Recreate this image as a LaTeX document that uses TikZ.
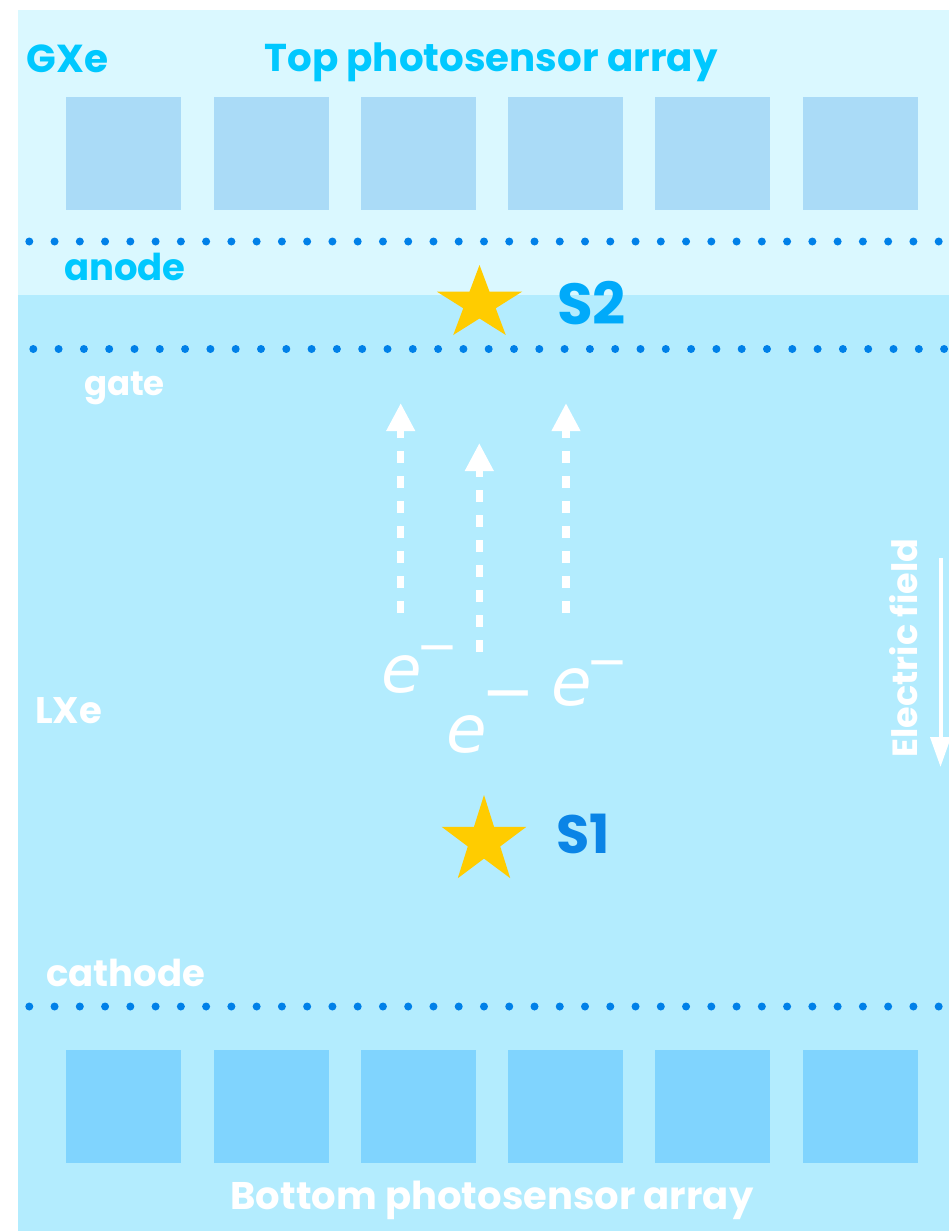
\documentclass[tikz,border=0pt]{standalone}
\usepackage{fontspec}
\setmainfont{Poppins}
\newfontfamily\efont{DejaVu Sans}
\usetikzlibrary{arrows.meta}
\definecolor{gxebg}{RGB}{218,248,255}
\definecolor{lxebg}{RGB}{179,236,254}
\definecolor{topsq}{RGB}{170,219,247}
\definecolor{botsq}{RGB}{128,212,254}
\definecolor{dotcol}{RGB}{0,128,232}
\definecolor{cyantext}{RGB}{0,200,255}
\definecolor{stwo}{RGB}{0,170,250}
\definecolor{sone}{RGB}{10,132,230}
\definecolor{starcol}{RGB}{255,204,0}
\newcommand{\fsz}[1]{\fontsize{#1}{#1}\selectfont}
\tikzset{
  sensorbox/.style={minimum width=115pt,minimum height=113pt,inner sep=0pt,outer sep=0pt},
  lbl/.style={inner sep=0pt,outer sep=0pt,font=\bfseries},
  elbl/.style={inner sep=0pt,outer sep=0pt,text=white,anchor=base west,font=\efont\itshape\fsz{66}},
  driftarrow/.style={white,line width=7.5pt,dash pattern=on 12pt off 13pt,-{Triangle[width=27pt,length=28pt]}},
  fieldarrow/.style={white,line width=4pt,-{Triangle[width=20pt,length=30pt]}},
  gridwire/.style={dotcol},
  pics/bigstar/.style 2 args={code={
    \fill[starcol,xscale=#2] (-90:#1) -- (-54:{0.382*#1}) -- (-18:#1) -- (18:{0.382*#1}) -- (54:#1) -- (90:{0.382*#1}) -- (126:#1) -- (162:{0.382*#1}) -- (198:#1) -- (234:{0.382*#1}) -- cycle;
  }}
}
\begin{document}
\begin{tikzpicture}[x=1pt,y=-1pt]
\useasboundingbox (0,0) rectangle (949,1231);
\fill[white] (0,0) rectangle (949,1231);
\fill[gxebg] (18,10) rectangle (949,295);
\fill[lxebg] (18,295) rectangle (949,1231);
% photosensors
\foreach \x [count=\i] in {66,214,361,508,655,803} {
  \node[sensorbox,fill=topsq] (t\i) at (\x+57.5,153.5) {};
  \node[sensorbox,fill=botsq] (b\i) at (\x+57.5,1106.5) {};
}
% wire grids
\foreach \k in {0,...,36} {
  \fill[gridwire] (29.3+25.26*\k,241.5) circle (4);
  \fill[gridwire] (33.3+25.3*\k,349) circle (4);
  \fill[gridwire] (29.3+25.26*\k,1006.5) circle (4);
}
% labels
\node[lbl,text=cyantext,anchor=base west,font=\bfseries\fsz{39}] (gxe) at (27,73) {GXe};
\node[lbl,text=cyantext,anchor=base,font=\bfseries\fsz{38.8}] (toparr) at (491,71) {Top photosensor array};
\node[lbl,text=cyantext,anchor=base west,font=\bfseries\fsz{37}] (anode) at (64,280) {anode};
\node[lbl,text=white,anchor=base west,font=\bfseries\fsz{34}] (gate) at (84,395) {gate};
\node[lbl,text=white,anchor=base west,font=\bfseries\fsz{37}] (lxe) at (35,723) {LXe};
\node[lbl,text=white,anchor=base west,font=\bfseries\fsz{37}] (cathode) at (46,986) {cathode};
\node[lbl,text=white,anchor=base,font=\bfseries\fsz{38.5}] (botarr) at (492,1209) {Bottom photosensor array};
\node[lbl,text=stwo,anchor=base west,font=\bfseries\fsz{58}] (s2) at (557,324) {S2};
\node[lbl,text=sone,anchor=base west,font=\bfseries\fsz{54}] (s1) at (556,853) {S1};
% stars
\pic at (479.5,303.7) {bigstar={38.7}{1.155}};
\pic at (484,841) {bigstar={46}{0.97}};
% electrons
\node[elbl] (e1) at (381,692) {e\kern-5pt\raisebox{29pt}{\efont\upshape\fsz{50}−}};
\node[elbl] (e2) at (446,752) {e\kern-5pt\raisebox{39pt}{\efont\upshape\fsz{64}−}};
\node[elbl] (e3) at (551,705) {e\kern-5pt\raisebox{27pt}{\efont\upshape\fsz{50}−}};
% drift arrows
\coordinate (a1s) at (400.7,613);
\coordinate (a1e) at (400.7,403);
\coordinate (a2s) at (479.3,652);
\coordinate (a2e) at (479.3,443);
\coordinate (a3s) at (566,613);
\coordinate (a3e) at (566,403);
\draw[driftarrow] (a1s) -- (a1e);
\draw[driftarrow] (a2s) -- (a2e);
\draw[driftarrow] (a3s) -- (a3e);
% electric field
\node[lbl,text=white,rotate=90,font=\bfseries\fsz{35}] (efield) at (904,648) {Electric field};
\coordinate (fs) at (940.5,558);
\coordinate (fe) at (940.5,767);
\draw[fieldarrow] (fs) -- (fe);
\end{tikzpicture}
\end{document}
